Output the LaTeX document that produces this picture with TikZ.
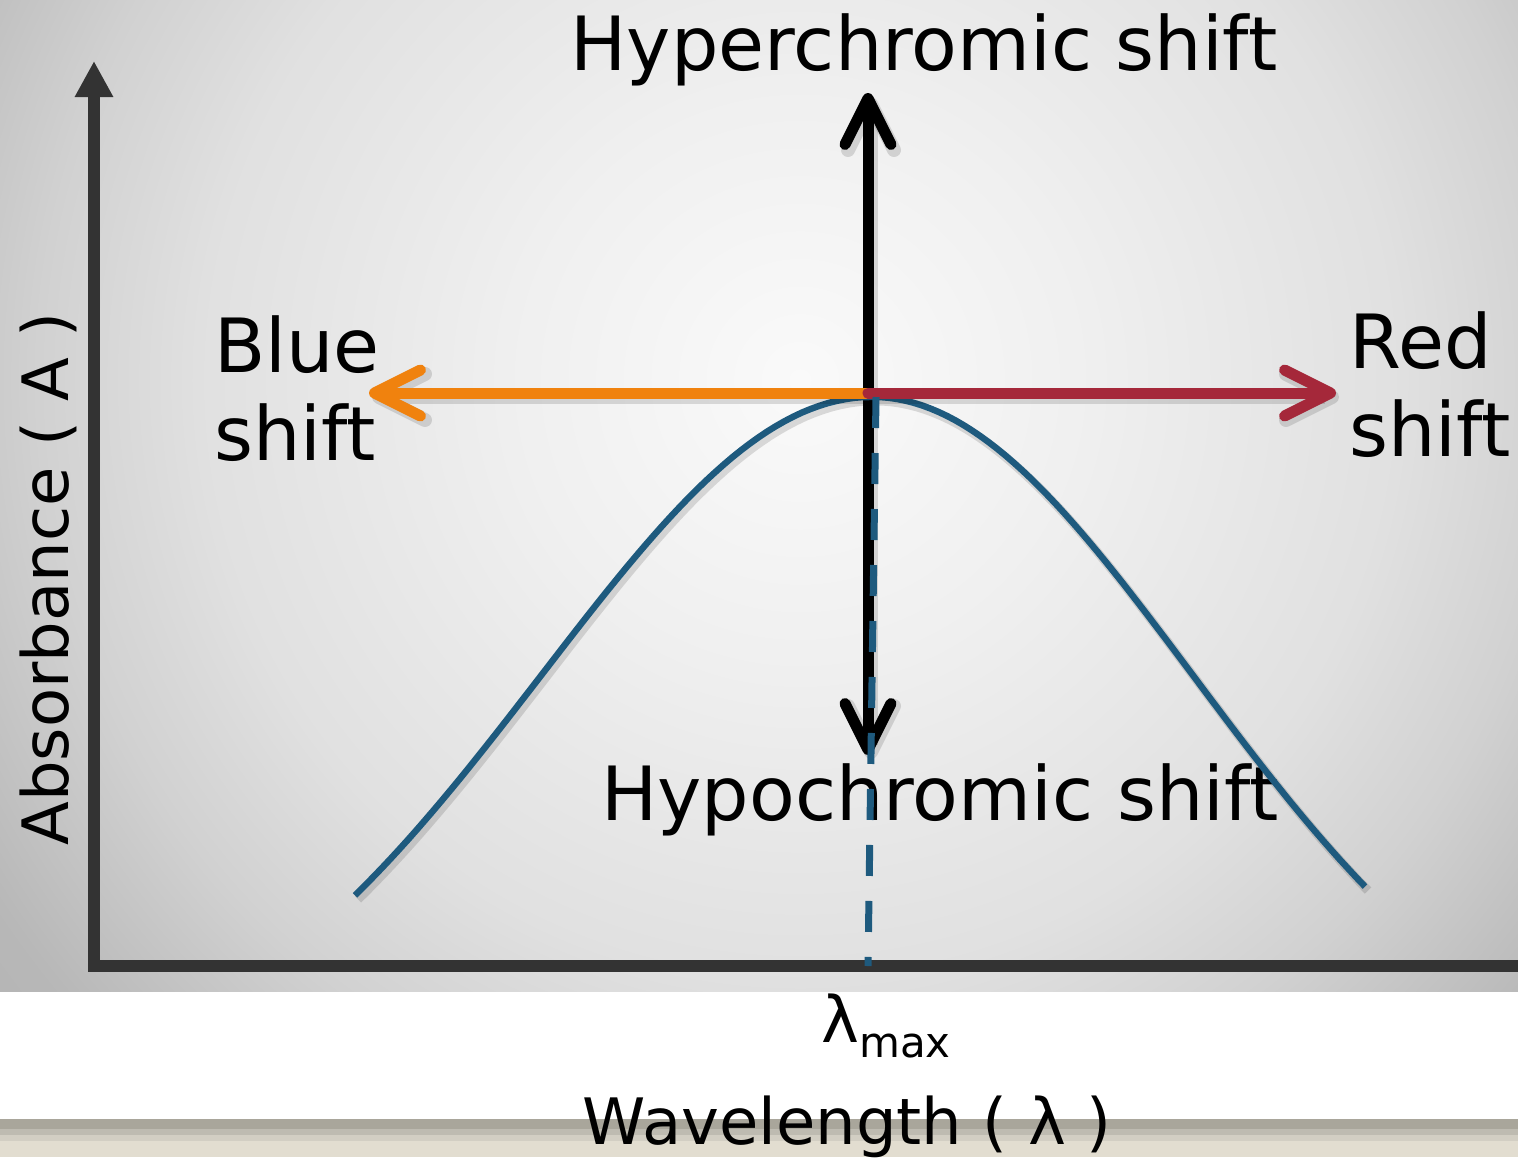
\documentclass[tikz,border=0pt]{standalone}
\usepackage{fontspec}
\setmainfont{DejaVu Sans}
\usetikzlibrary{arrows.meta}
\definecolor{figCurve}{RGB}{30,90,126}
\definecolor{figOrange}{RGB}{240,130,14}
\definecolor{figRed}{RGB}{165,40,58}
\definecolor{figAxis}{RGB}{51,51,51}
\definecolor{figBandA}{RGB}{169,166,155}
\definecolor{figBandB}{RGB}{190,187,177}
\definecolor{figBandC}{RGB}{210,206,195}
\definecolor{figBandD}{RGB}{226,221,208}
\pgfdeclareradialshading{figBack}{\pgfpoint{0bp}{0bp}}{color(0bp)=(black!2); color(6.4bp)=(black!6); color(13.6bp)=(black!12); color(17.3bp)=(black!18); color(21.8bp)=(black!28); color(25bp)=(black!30); color(50bp)=(black!30)}

\begin{document}
\begin{tikzpicture}[
  x=0.5pt, y=-0.5pt,
  every node/.style={inner sep=0pt, text=black},
  big/.style={font=\fontsize{37.4}{44}\selectfont, align=left},
  axlbl/.style={font=\fontsize{32}{38}\selectfont},
  shadow/.style={preaction={draw=black, opacity=.13, line width=#1,
                 transform canvas={xshift=1.5pt, yshift=-2pt}}},
  axisline/.style={draw=figAxis, line width=5.8pt, line join=miter},
  fn/.style={-{Straight Barb[length=23pt, width=23pt, round]}, line width=5.5pt,
             line cap=round, black, shadow=7pt},
  fo/.style={fn, figOrange},
  fr/.style={fn, figRed},
  curveline/.style={draw=figCurve, line width=3.2pt, shadow=4.5pt},
  dashline/.style={draw=figCurve, line width=3.5pt, dash pattern=on 15.5pt off 12.5pt}
]
\useasboundingbox (0,0) rectangle (1518,1157);

\coordinate (glow) at (800,380);
\begin{scope}
  \clip (0,0) rectangle (1518,991);
  \shade[shading=figBack] (glow) circle (1100);
\end{scope}
\fill[figBandA] (0,1119) rectangle (1518,1129);
\fill[figBandB] (0,1129) rectangle (1518,1135);
\fill[figBandC] (0,1135) rectangle (1518,1141);
\fill[figBandD] (0,1141) rectangle (1518,1157);

\coordinate (origin) at (94,966);
\coordinate (ytop)   at (94,61);
\coordinate (xend)   at (1530,966);
\coordinate (peak)   at (868,393);
\coordinate (hyper)  at (868,93);
\coordinate (hypo)   at (868,755);
\coordinate (blue)   at (369,393);
\coordinate (red)    at (1336,393);
\coordinate (dtop)   at (876,397);
\coordinate (dbot)   at (868,966);

\node[big, anchor=base] (hyperlbl) at (924,70)  {Hyperchromic shift};
\node[big, anchor=base] (hypolbl)  at (940,820) {Hypochromic shift};
\node[big, anchor=west] (bluelbl)  at (214,389) {Blue\\shift};
\node[big, anchor=west] (redlbl)   at (1349,385) {Red\\shift};
\node[axlbl, rotate=90, anchor=base] (ylbl) at (68,579) {Absorbance ( A )};
\node[axlbl, anchor=base] (xlbl) at (847,1144) {Wavelength ( λ )};
\node[axlbl, anchor=base west] (lmax) at (821,1042) {λ\raisebox{-7.5pt}{\fontsize{21}{24}\selectfont max}};

\draw[axisline, {Triangle[length=18pt, width=18pt]}-] (ytop) -- (origin) -- (xend);
\draw[fn] (peak) -- (hyper);
\draw[fn] (peak) -- (hypo);
\draw[curveline] plot[domain=355:872, samples=60] (\x, {397+705*(1-exp(-((\x-872)/100)^2/21.78))})
  -- plot[domain=872:1365, samples=60] (\x, {397+705*(1-exp(-((\x-872)/100)^2/20.5))});
\draw[fo] (peak) -- (blue);
\draw[fr] (peak) -- (red);
\draw[dashline] (dtop) -- (dbot);

\end{tikzpicture}
\end{document}
